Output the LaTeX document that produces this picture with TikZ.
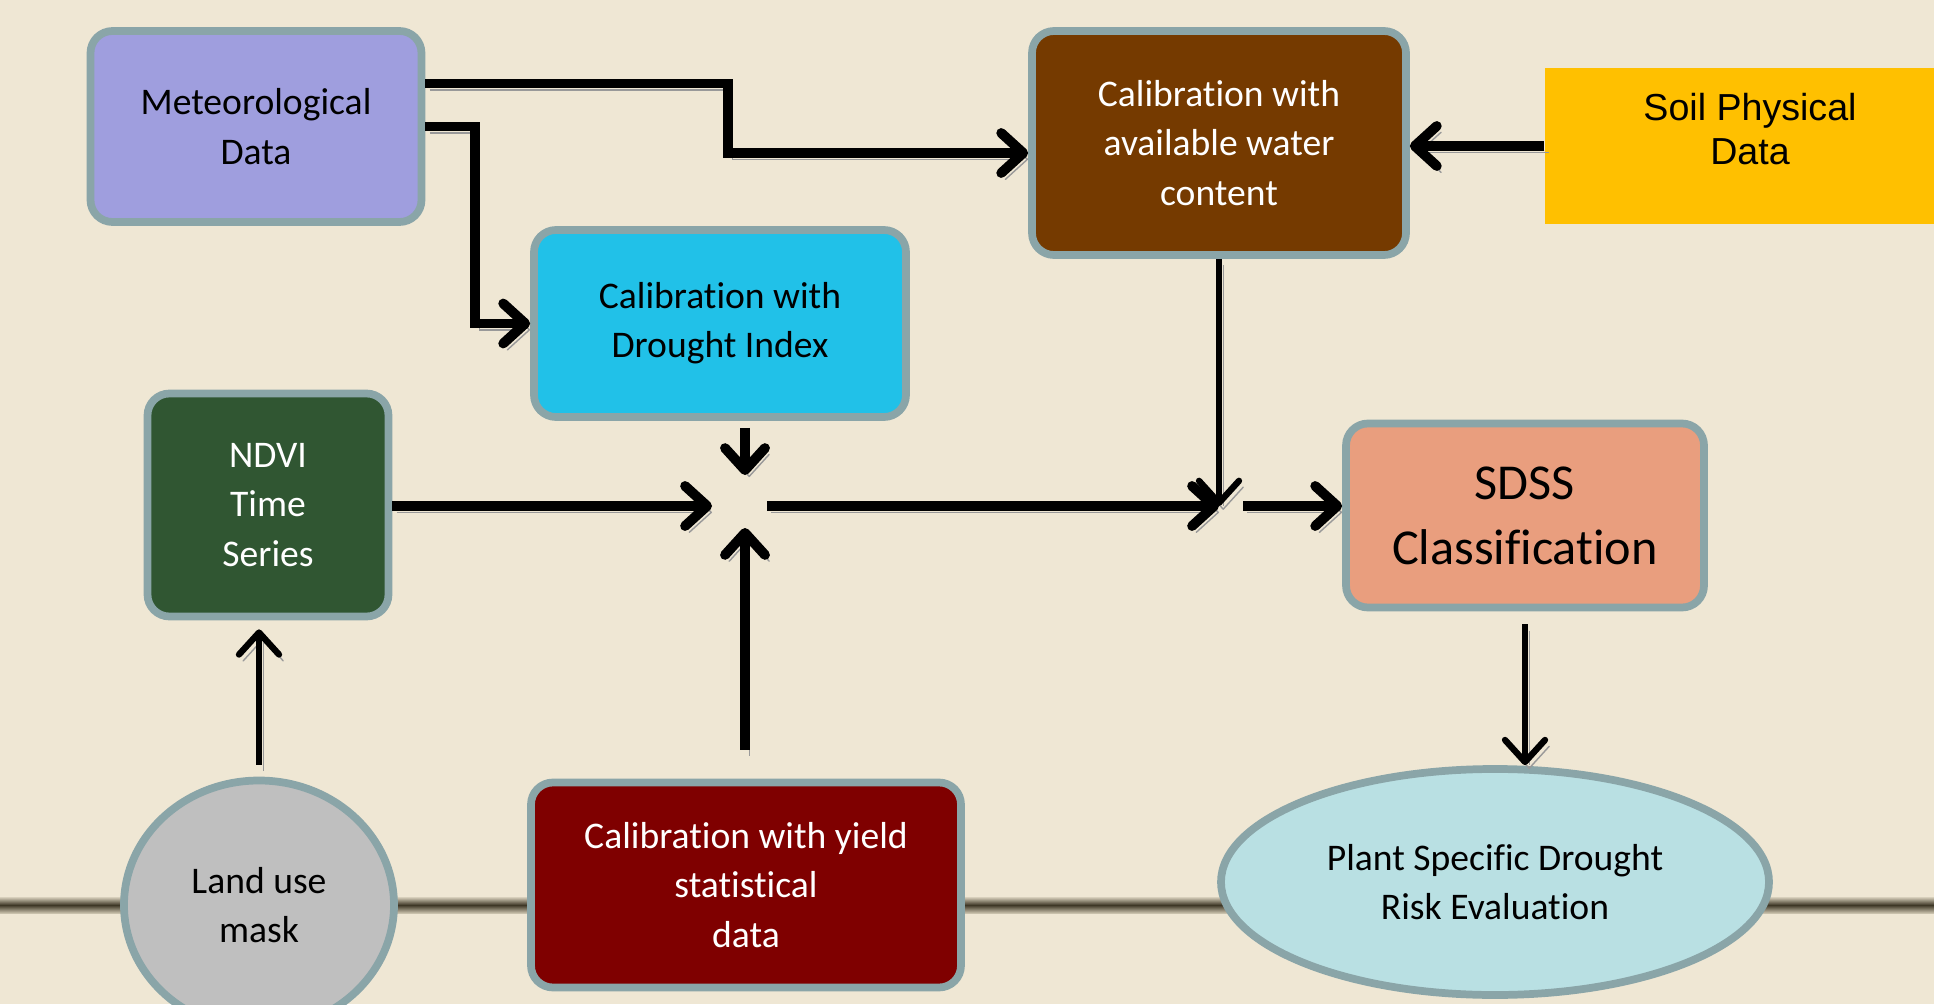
\documentclass[tikz,border=0pt]{standalone}
\usepackage{fontspec}
\setmainfont{Carlito}[Ligatures=NoCommon]
\newfontfamily\arialfont{Liberation Sans}
\usepackage{tikz}
\usetikzlibrary{arrows.meta,calc,shapes.geometric}
\usepackage{xcolor}

\definecolor{bgcol}{HTML}{EFE7D4}
\definecolor{edgecol}{HTML}{8AA5A8}
\definecolor{metcol}{HTML}{9F9EDE}
\definecolor{droughtcol}{HTML}{21C1E8}
\definecolor{watercol}{HTML}{753A00}
\definecolor{soilcol}{HTML}{FFC000}
\definecolor{ndvicol}{HTML}{305632}
\definecolor{sdsscol}{HTML}{E99E7E}
\definecolor{landcol}{HTML}{BFBFBF}
\definecolor{yieldcol}{HTML}{7F0000}
\definecolor{plantcol}{HTML}{B9E0E3}
\definecolor{barTop}{HTML}{D8D0BC}
\definecolor{barMid}{HTML}{3E3726}
\definecolor{barBot}{HTML}{C9C1AC}

\tikzset{
  box/.style={draw=edgecol, line width=2.2pt, rounded corners=0.22cm, align=center,
    inner sep=2pt, font=\fontsize{10.7}{14}\selectfont},
  oval/.style={ellipse, draw=edgecol, line width=2.2pt, align=center,
    inner sep=0pt, font=\fontsize{10.7}{14}\selectfont},
  flow/.style={-{Straight Barb[length=0.22cm,width=0.40cm,round]}, line width=2.8pt,
    preaction={draw=black!40, transform canvas={shift={(1.2pt,-1.8pt)}}}},
  thinflow/.style={flow, line width=1.8pt},
}

\begin{document}
\begin{tikzpicture}
  % 背景
  \useasboundingbox (0,0) rectangle (19.34,10.04);
  \fill[bgcol] (0,0) rectangle (19.34,10.04);
  \shade[top color=barTop, bottom color=barMid] (0,0.99) rectangle (19.34,1.07);
  \shade[top color=barMid, bottom color=barBot] (0,0.91) rectangle (19.34,0.99);

  % 入力データ
  \node[box, fill=metcol, minimum width=3.31cm, minimum height=1.91cm] (met) at (2.56,8.775) {Meteorological\\Data};
  \node[fill=soilcol, minimum width=4.1cm, minimum height=1.56cm,
    label={[yshift=0.17cm, align=center, font=\arialfont\fontsize{10.7}{12.3}\selectfont]center:Soil Physical\\Data}] (soil) at (17.50,8.58) {};
  \node[box, fill=ndvicol, text=white, minimum width=2.41cm, minimum height=2.23cm] (ndvi) at (2.68,4.99) {NDVI\\Time\\Series};
  \node[oval, fill=landcol, minimum width=2.70cm, minimum height=2.49cm] (land) at (2.59,0.99) {Land use\\mask};

  % キャリブレーション
  \node[box, fill=droughtcol, minimum width=3.72cm, minimum height=1.87cm] (drought) at (7.20,6.805) {Calibration with\\Drought Index};
  \node[box, fill=watercol, text=white, minimum width=3.74cm, minimum height=2.24cm] (water) at (12.19,8.61) {Calibration with\\available water\\content};
  \node[box, fill=yieldcol, text=white, minimum width=4.30cm, minimum height=2.05cm] (yield) at (7.46,1.19) {Calibration with yield\\statistical\\data};

  % 出力
  \node[box, fill=sdsscol, minimum width=3.58cm, minimum height=1.84cm,
    font=\fontsize{14.3}{18.5}\selectfont] (sdss) at (15.25,4.885) {SDSS\\Classification};
  \node[oval, fill=plantcol, minimum width=5.48cm, minimum height=2.26cm] (plant) at (14.95,1.22) {Plant Specific Drought\\Risk Evaluation};

  % 合流点
  \coordinate (hub) at (7.45,4.98);
  \coordinate (hubR) at (12.19,4.98);

  % 矢印
  \draw[flow] ([yshift=0.43cm]met.east) -| ([xshift=-3cm,yshift=-0.1cm]water.west) -- ([yshift=-0.1cm]water.west);
  \draw[flow] (met.east) -- ++(0.5,0) |- (drought.west);
  \draw[flow] (soil.west) -- (soil.west -| water.east);
  \draw[thinflow] (water.south) -- (hubR);
  \draw[flow] ([yshift=-0.07cm]drought.south -| hub) -- ([yshift=0.31cm]hub);
  \draw[flow] (ndvi.east |- hub) -- ([xshift=-0.33cm]hub);
  \draw[flow] ([yshift=0.29cm]yield.north -| hub) -- ([yshift=-0.22cm]hub);
  \draw[flow] ([xshift=0.22cm]hub) -- (hubR);
  \draw[flow] ([xshift=0.24cm]hubR) -- (sdss.west |- hubR);
  \draw[thinflow] ([yshift=-0.13cm]sdss.south) -- (sdss.south |- plant.north);
  \draw[thinflow] ([yshift=0.12cm]land.north) -- ([yshift=-0.09cm]land.north |- ndvi.south);
\end{tikzpicture}
\end{document}
